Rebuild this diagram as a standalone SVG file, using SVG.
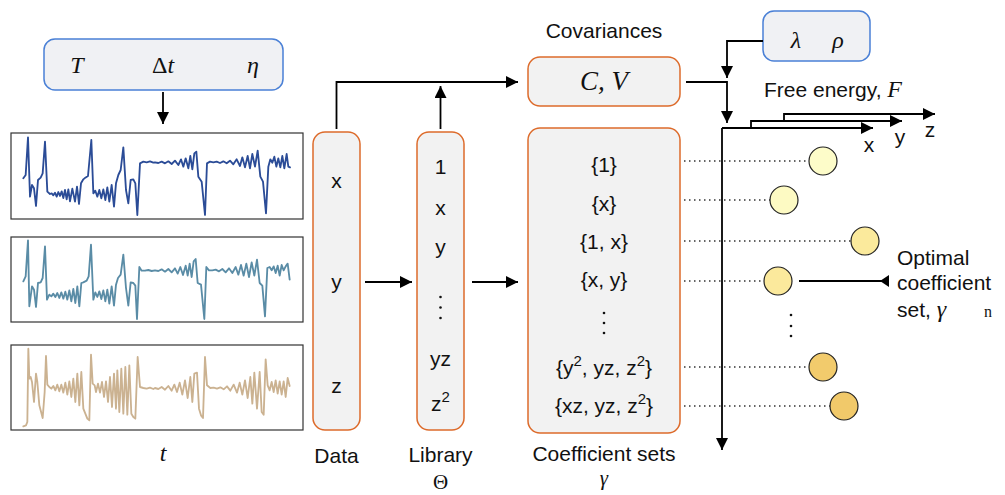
<svg xmlns="http://www.w3.org/2000/svg" width="1005" height="495" viewBox="0 0 1005 495">
<style>
.lbl{font-family:"Liberation Sans",Arial,sans-serif;font-size:21px;fill:#111;text-anchor:middle}
.math{font-family:"Liberation Serif","Times New Roman",serif;font-style:italic;fill:#111;text-anchor:middle}
.up{font-family:"Liberation Serif","Times New Roman",serif;fill:#111;text-anchor:middle}
.obox{fill:#f2f2f2;stroke:#dd6b2b;stroke-width:1.5}
.bbox{fill:#f0f1f4;stroke:#4a80d6;stroke-width:1.5}
.frame{fill:#fff;stroke:#333;stroke-width:1.2}
.ln{fill:none;stroke:#000;stroke-width:1.8}
.dot{fill:none;stroke:#333;stroke-width:1.5;stroke-dasharray:1.5 3.5}
.sig{fill:none;stroke-width:5.5;stroke-linejoin:round;stroke-linecap:round}
.c{stroke:#222;stroke-width:1.2}
</style>
<defs>
<marker id="ah" markerWidth="12" markerHeight="12" refX="10" refY="5" orient="auto" markerUnits="userSpaceOnUse" viewBox="0 0 10 10">
<path d="M0,0 L10,5 L0,10 z" fill="#000"/>
</marker>
</defs>

<g id="params">
<rect class="bbox" x="44" y="39" width="239" height="51" rx="11"/>
<text class="math" x="77" y="73" font-size="24">T</text>
<text class="up" x="163" y="73" font-size="24">Δ<tspan font-style="italic">t</tspan></text>
<text class="math" x="253" y="73" font-size="24">η</text>
</g>

<g id="plot-x">
<rect class="frame" x="11" y="133" width="292" height="86"/>
<g transform="translate(10,130) scale(0.33333)">
<polyline class="sig" stroke="#2b4c97" points="40,145 47,135 54,22 60,200 66,165 72,175 78,228 84,150 92,143 98,130 105,35 112,185 120,192 125,190 130,196 135,188 140,200 145,186 150,198 155,184 160,204 165,180 170,208 175,178 180,214 187,176 195,215 201,170 207,222 213,160 220,148 226,143 234,138 244,30 250,190 256,182 262,200 268,180 274,205 280,178 286,210 292,172 298,215 305,165 312,230 318,160 325,135 332,120 340,52 348,180 355,220 362,150 370,148 376,160 382,255 390,100 400,95 410,97 420,94 430,98 435,97 445,99 455,95 465,100 475,94 485,102 495,92 505,105 513,88 520,110 527,85 535,115 541,78 547,118 553,70 559,65 565,140 575,155 585,255 591,100 600,95 610,97 620,95 630,99 640,94 650,100 660,92 670,103 680,88 690,108 697,82 705,112 713,78 720,115 727,72 735,110 743,62 751,140 759,155 768,250 775,110 781,88 787,98 793,80 799,110 805,85 811,112 817,78 823,115 830,72 835,110 840,112"/>
</g>
</g>

<g id="plot-y">
<rect class="frame" x="11" y="237" width="292" height="85"/>
<g transform="translate(10,233) scale(0.33333)">
<polyline class="sig" stroke="#5a8ca6" points="40,145 47,130 54,22 58,220 66,160 72,170 78,222 84,150 92,148 98,135 105,40 111,200 118,185 124,190 130,182 136,192 142,180 148,195 154,178 160,197 166,176 172,200 178,172 184,205 190,168 196,210 202,160 208,220 214,150 220,148 230,143 236,130 243,35 250,200 256,178 262,192 268,175 274,198 280,172 286,205 292,170 298,212 305,160 312,218 318,155 324,135 332,125 340,65 348,165 355,218 362,148 370,150 376,158 381,258 388,102 395,113 405,113 415,111 425,114 435,112 445,114 455,109 465,116 475,108 485,118 495,106 503,122 511,102 519,126 527,98 533,128 539,92 545,132 551,85 557,78 563,150 573,155 583,258 589,102 597,112 607,112 617,110 627,115 637,108 647,118 657,106 667,120 677,102 685,125 693,96 701,128 709,92 717,132 725,88 733,128 741,80 749,150 757,158 765,250 772,105 779,102 785,112 791,100 797,120 803,98 809,128 815,96 821,112 827,100 833,92 839,140"/>
</g>
</g>

<g id="plot-z">
<rect class="frame" x="11" y="345" width="292" height="85"/>
<g transform="translate(10,342) scale(0.33333)">
<polyline class="sig" stroke="#cbb291" points="40,253 48,250 52,240 55,20 58,110 62,105 66,120 72,180 78,95 82,120 88,190 98,228 104,150 108,42 112,128 118,135 124,140 130,132 136,145 142,128 148,148 154,128 160,152 166,122 172,158 178,118 184,165 190,110 196,180 202,95 208,190 214,90 220,200 226,215 232,230 238,235 243,38 248,125 254,130 258,150 264,125 270,152 276,120 282,165 288,118 294,180 300,105 306,195 312,95 318,200 322,85 328,210 334,80 340,215 346,75 352,218 358,70 364,215 370,225 376,230 383,45 390,135 400,138 410,140 420,137 430,141 435,138 445,141 455,135 465,143 475,132 485,146 493,128 501,150 509,122 517,158 525,115 533,168 541,105 547,180 553,95 561,92 567,200 573,220 579,228 585,45 591,130 601,138 611,137 621,140 631,136 641,142 651,133 661,146 671,128 681,152 689,122 697,158 705,115 713,168 721,105 727,185 733,92 741,200 749,90 755,210 761,218 767,52 773,130 779,145 785,120 791,150 797,115 803,155 809,118 815,158 821,118 827,165 833,108 839,132"/>
</g>
<text class="math" x="163" y="461" font-size="24">t</text>
</g>

<g id="data">
<rect class="obox" x="313" y="132" width="47" height="298" rx="12"/>
<text class="lbl" x="336.5" y="188">x</text>
<text class="lbl" x="336.5" y="289">y</text>
<text class="lbl" x="336.5" y="393">z</text>
<text class="lbl" x="336.5" y="463">Data</text>
</g>

<g id="library">
<rect class="obox" x="417" y="132" width="47" height="298" rx="12"/>
<text class="lbl" x="440.5" y="174">1</text>
<text class="lbl" x="440.5" y="215">x</text>
<text class="lbl" x="440.5" y="254">y</text>
<circle cx="440.5" cy="297" r="1.3" fill="#111"/>
<circle cx="440.5" cy="307.5" r="1.3" fill="#111"/>
<circle cx="440.5" cy="318" r="1.3" fill="#111"/>
<text class="lbl" x="440.5" y="366">yz</text>
<text class="lbl" x="440.5" y="411">z<tspan dy="-9" font-size="15">2</tspan></text>
<text class="lbl" x="440.5" y="462">Library</text>
<text class="up" x="440.5" y="489" font-size="21">Θ</text>
</g>

<g id="covariances">
<rect class="obox" x="528" y="57" width="152" height="49" rx="12"/>
<text class="lbl" x="604" y="38">Covariances</text>
<text class="math" x="604" y="90" font-size="27">C, V</text>
</g>

<g id="coefficients">
<rect class="obox" x="528" y="128" width="152" height="305" rx="12"/>
<text class="lbl" x="604" y="172">{1}</text>
<text class="lbl" x="604" y="211">{x}</text>
<text class="lbl" x="604" y="249">{1, x}</text>
<text class="lbl" x="604" y="287">{x, y}</text>
<circle cx="604" cy="313" r="1.3" fill="#111"/>
<circle cx="604" cy="323" r="1.3" fill="#111"/>
<circle cx="604" cy="333" r="1.3" fill="#111"/>
<text class="lbl" x="604" y="375">{y<tspan dy="-9" font-size="15">2</tspan><tspan dy="9">, yz, z</tspan><tspan dy="-9" font-size="15">2</tspan><tspan dy="9">}</tspan></text>
<text class="lbl" x="604" y="413">{xz, yz, z<tspan dy="-9" font-size="15">2</tspan><tspan dy="9">}</tspan></text>
<text class="lbl" x="604" y="461">Coefficient sets</text>
<text class="math" x="604" y="485" font-size="21">γ</text>
</g>

<g id="hyper">
<rect class="bbox" x="763" y="11" width="107" height="50" rx="11"/>
<text class="math" x="796" y="48" font-size="24">λ</text>
<text class="math" x="838" y="48" font-size="24">ρ</text>
</g>

<g id="free-energy-axes">
<text class="lbl" x="764" y="97" style="text-anchor:start">Free energy, <tspan font-family="Liberation Serif, serif" font-style="italic" font-size="24">F</tspan></text>
<text class="lbl" x="869" y="152">x</text>
<text class="lbl" x="900" y="144">y</text>
<text class="lbl" x="930" y="137">z</text>
</g>

<g id="results">
<circle class="c" cx="823" cy="161" r="14" fill="#fdfcc9"/>
<circle class="c" cx="784" cy="200" r="14" fill="#fdfac3"/>
<circle class="c" cx="865" cy="241" r="14" fill="#fbea9c"/>
<circle class="c" cx="778" cy="281" r="14" fill="#fbe99c"/>
<circle cx="791" cy="315" r="1.3" fill="#111"/>
<circle cx="791" cy="326" r="1.3" fill="#111"/>
<circle cx="791" cy="336" r="1.3" fill="#111"/>
<circle class="c" cx="823" cy="367" r="14" fill="#f2cb6c"/>
<circle class="c" cx="844" cy="406" r="14" fill="#f1c96a"/>
</g>

<g id="optimal">
<text class="lbl" x="897" y="265" style="text-anchor:start">Optimal</text>
<text class="lbl" x="897" y="290" style="text-anchor:start">coefficient</text>
<text class="lbl" x="897" y="317" style="text-anchor:start">set, <tspan font-family="Liberation Serif, serif" font-style="italic" font-size="24">γ</tspan></text>
<text class="up" x="988" y="317" font-size="16">n</text>
</g>

<g id="connectors">
<line class="ln" x1="163" y1="92" x2="163" y2="124" marker-end="url(#ah)"/>
<polyline class="ln" points="336.5,129 336.5,82 518,82" marker-end="url(#ah)"/>
<line class="ln" x1="440.5" y1="129" x2="440.5" y2="86" marker-end="url(#ah)"/>
<line class="ln" x1="365" y1="282" x2="412" y2="282" marker-end="url(#ah)"/>
<line class="ln" x1="472" y1="282" x2="518" y2="282" marker-end="url(#ah)"/>
<polyline class="ln" points="763,41 727,41 727,78" marker-end="url(#ah)"/>
<polyline class="ln" points="686,82 727,82 727,123" marker-end="url(#ah)"/>
<polyline class="ln" points="722,128 722,450" marker-end="url(#ah)"/>
<polyline class="ln" points="722,128 873,128" marker-end="url(#ah)"/>
<polyline class="ln" points="751,128 751,121 902,121" marker-end="url(#ah)"/>
<polyline class="ln" points="784,121 784,114 935,114" marker-end="url(#ah)"/>
<line class="dot" x1="684" y1="161" x2="809" y2="161"/>
<line class="dot" x1="684" y1="200" x2="770" y2="200"/>
<line class="dot" x1="684" y1="241" x2="851" y2="241"/>
<line class="dot" x1="684" y1="281" x2="764" y2="281"/>
<line class="dot" x1="684" y1="367" x2="809" y2="367"/>
<line class="dot" x1="684" y1="406" x2="830" y2="406"/>
<line class="ln" x1="799" y1="281" x2="884" y2="281"/>
<path d="M880,281 L889,275 L889,287 z" fill="#000"/>
</g>
</svg>
